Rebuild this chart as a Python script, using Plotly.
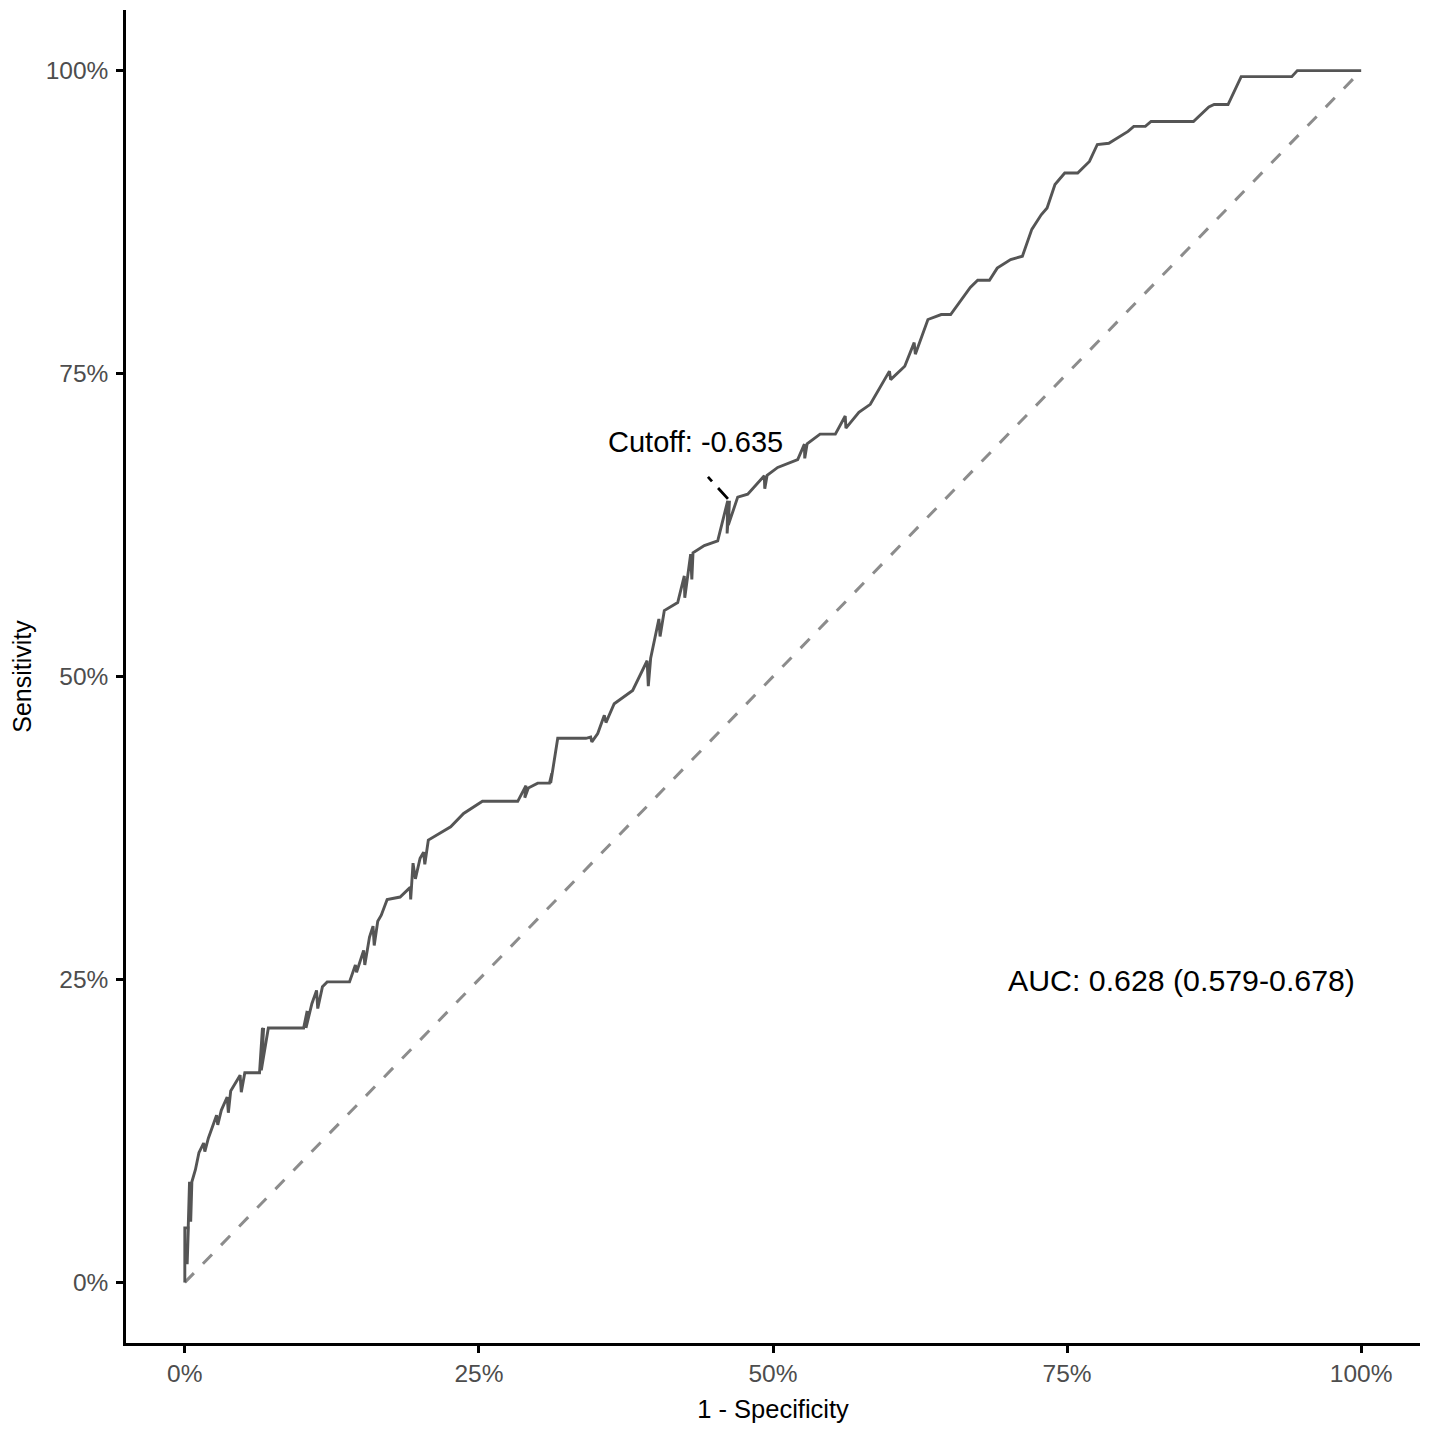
import plotly.graph_objects as go

# ROC curve (1 - specificity, sensitivity)
fpr = [0.000, 0.000, 0.003, 0.002, 0.004, 0.005, 0.006, 0.009, 0.012, 0.016,
       0.017, 0.020, 0.024, 0.027, 0.028, 0.031, 0.036, 0.037, 0.039, 0.047,
       0.048, 0.051, 0.0635, 0.066, 0.064, 0.067, 0.065, 0.071, 0.101, 0.104,
       0.103, 0.108, 0.112, 0.113, 0.117, 0.121, 0.140, 0.145, 0.146, 0.152,
       0.153, 0.157, 0.160, 0.161, 0.164, 0.167, 0.172, 0.183, 0.1916, 0.192,
       0.194, 0.196, 0.200, 0.203, 0.204, 0.207, 0.214, 0.226, 0.237, 0.2455,
       0.253, 0.283, 0.290, 0.289, 0.292, 0.300, 0.310, 0.312, 0.311, 0.317,
       0.341, 0.345, 0.346, 0.351, 0.3566, 0.358, 0.365, 0.3807, 0.393, 0.394,
       0.396, 0.403, 0.404, 0.4076, 0.419, 0.4246, 0.425, 0.430, 0.431, 0.432,
       0.4416, 0.453, 0.4615, 0.461, 0.463, 0.462, 0.470, 0.4785, 0.4926, 0.493,
       0.495, 0.504, 0.521, 0.5267, 0.527, 0.529, 0.540, 0.553, 0.5614, 0.562,
       0.573, 0.5827, 0.599, 0.600, 0.612, 0.620, 0.621, 0.6317, 0.643, 0.651,
       0.6677, 0.674, 0.684, 0.6906, 0.702, 0.712, 0.720, 0.728, 0.733, 0.7397,
       0.748, 0.759, 0.769, 0.7757, 0.7855, 0.8018, 0.8067, 0.8165, 0.8214, 0.8574,
       0.8705, 0.875, 0.8868, 0.898, 0.941, 0.9457, 1.000]
tpr = [0.000, 0.045, 0.045, 0.015, 0.083, 0.050, 0.083, 0.093, 0.107, 0.115,
       0.108, 0.119, 0.130, 0.138, 0.130, 0.142, 0.153, 0.140, 0.158, 0.171,
       0.157, 0.173, 0.173, 0.210, 0.180, 0.210, 0.175, 0.210, 0.210, 0.224,
       0.210, 0.230, 0.241, 0.226, 0.244, 0.248, 0.248, 0.262, 0.256, 0.274,
       0.262, 0.285, 0.294, 0.278, 0.298, 0.303, 0.316, 0.318, 0.326, 0.316,
       0.346, 0.333, 0.350, 0.355, 0.345, 0.365, 0.369, 0.376, 0.387, 0.392,
       0.397, 0.397, 0.410, 0.400, 0.408, 0.412, 0.412, 0.420, 0.412, 0.449,
       0.449, 0.450, 0.446, 0.453, 0.468, 0.462, 0.4775, 0.4885, 0.513, 0.492,
       0.515, 0.5475, 0.533, 0.5544, 0.561, 0.583, 0.565, 0.601, 0.580, 0.602,
       0.608, 0.612, 0.645, 0.618, 0.645, 0.625, 0.648, 0.6505, 0.6656, 0.655,
       0.666, 0.6725, 0.679, 0.6917, 0.680, 0.692, 0.700, 0.700, 0.715, 0.705,
       0.718, 0.7246, 0.752, 0.745, 0.756, 0.7755, 0.766, 0.7946, 0.7987, 0.7987,
       0.821, 0.827, 0.827, 0.837, 0.844, 0.8468, 0.869, 0.881, 0.8866, 0.906,
       0.9155, 0.9155, 0.925, 0.939, 0.940, 0.9498, 0.954, 0.954, 0.958, 0.958,
       0.970, 0.972, 0.972, 0.995, 0.995, 1.000, 1.000]

# optimal cutoff point and its label
cutoff_point = (0.4617, 0.6466)
cutoff_leader_end = (0.4447, 0.6647)
cutoff_label_pos = (0.4345, 0.6936)
cutoff_text = "Cutoff: -0.635"

auc_text = "AUC: 0.628 (0.579-0.678)"
auc_pos = (0.8474, 0.2488)

tick_vals = [0, 0.25, 0.5, 0.75, 1]
tick_text = ["0%", "25%", "50%", "75%", "100%"]

FONT = "Arial, Liberation Sans, sans-serif"

fig = go.Figure()

# chance diagonal
fig.add_trace(go.Scatter(x=[0, 1], y=[0, 1], mode="lines",
                         line=dict(color="#8c8c8c", width=3, dash="13px,13px"),
                         hoverinfo="skip", showlegend=False))

# ROC curve
fig.add_trace(go.Scatter(x=fpr, y=tpr, mode="lines",
                         line=dict(color="#555555", width=2.9),
                         showlegend=False))

# leader from cutoff label to the curve
fig.add_trace(go.Scatter(x=[cutoff_leader_end[0], cutoff_point[0]],
                         y=[cutoff_leader_end[1], cutoff_point[1]],
                         mode="lines",
                         line=dict(color="black", width=2.8, dash="6px,9px,20px"),
                         hoverinfo="skip", showlegend=False))

fig.add_annotation(x=cutoff_label_pos[0], y=cutoff_label_pos[1], text=cutoff_text,
                   showarrow=False, xanchor="center", yanchor="middle",
                   font=dict(family=FONT, size=29, color="black"))
fig.add_annotation(x=auc_pos[0], y=auc_pos[1], text=auc_text,
                   showarrow=False, xanchor="center", yanchor="middle",
                   font=dict(family=FONT, size=30.3, color="black"))

axis_common = dict(
    tickvals=tick_vals, ticktext=tick_text,
    showgrid=False, zeroline=False,
    showline=True, linecolor="black", linewidth=2.6,
    ticks="outside", ticklen=7, tickwidth=2.6, tickcolor="black",
    tickfont=dict(family=FONT, size=24.5, color="#4d4d4d"),
    range=[-0.05, 1.05],
)

fig.update_xaxes(**axis_common,
                 title=dict(text="1 - Specificity", standoff=17,
                            font=dict(family=FONT, size=25.5, color="black")))
fig.update_yaxes(**axis_common, ticklabelstandoff=3,
                 title=dict(text="Sensitivity", standoff=11,
                            font=dict(family=FONT, size=25, color="black")))

# page body has an 8px margin, so the figure is sized to fit inside it
fig.update_layout(
    width=1413, height=1415,
    margin=dict(l=118, r=1, t=2, b=80),
    plot_bgcolor="white", paper_bgcolor="white",
    font=dict(family=FONT),
)

fig.write_html("out.html")
